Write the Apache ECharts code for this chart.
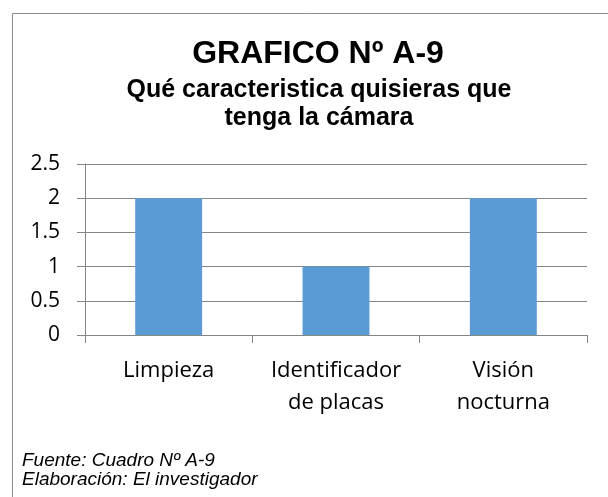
<!DOCTYPE html>
<html>
<head>
<meta charset="utf-8">
<script src="https://cdn.jsdelivr.net/npm/echarts@6/dist/echarts.min.js"></script>
<style>
  html, body { margin: 0; padding: 0; background: #fff; }
  #chart { width: 608px; height: 497px; }
</style>
</head>
<body>
<div id="chart"></div>
<script>
// datos del grafico A-9
var categorias = ['Limpieza', 'Identificador\nde placas', 'Visión\nnocturna']
var valores = [2, 1, 2]
var titulo = 'GRAFICO Nº A-9'
var subtitulo = 'Qué caracteristica quisieras que\ntenga la cámara'
var fuente = 'Fuente: Cuadro Nº A-9\nElaboración: El investigador'

var chart = echarts.init(document.getElementById('chart'), null, { renderer: 'canvas' })

var option = {
  backgroundColor: '#fff',
  animation: false,
  title: [{
    text: titulo,
    left: 313,
    top: 33,
    textAlign: 'center',
    textStyle: {
      fontFamily: 'Liberation Sans',
      fontWeight: 'bold',
      fontSize: 32,
      color: '#000'
    }
  }, {
    text: subtitulo,
    left: 314,
    top: 71,
    textAlign: 'center',
    textStyle: {
      fontFamily: 'Liberation Sans',
      fontWeight: 'bold',
      fontSize: 25,
      lineHeight: 28,
      color: '#000'
    }
  }],
  graphic: [{
    type: 'rect',
    shape: { x: 12.5, y: 13.5, width: 640, height: 520 },
    style: { fill: 'none', stroke: '#8c8c8c', lineWidth: 1 },
    silent: true
  }, {
    type: 'text',
    left: 22,
    top: 451,
    style: {
      text: fuente,
      font: 'italic 19px "Liberation Sans"',
      lineHeight: 19,
      fill: '#000'
    }
  }],
  grid: {
    left: 85,
    right: 21,
    top: 164,
    bottom: 162,
    containLabel: false
  },
  xAxis: {
    type: 'category',
    data: categorias,
    axisLine: { show: true, lineStyle: { color: '#868686', width: 1 } },
    axisTick: { show: true, length: 8, lineStyle: { color: '#868686' } },
    axisLabel: {
      margin: 20,
      fontFamily: 'Open Sans',
      fontSize: 22,
      lineHeight: 32,
      color: '#000',
      interval: 0
    }
  },
  yAxis: {
    type: 'value',
    min: 0,
    max: 2.5,
    interval: 0.5,
    axisLine: { show: true, lineStyle: { color: '#868686', width: 1 } },
    axisTick: { show: true, length: 8, lineStyle: { color: '#868686' } },
    splitLine: { show: true, lineStyle: { color: '#868686', width: 1 } },
    axisLabel: {
      margin: 25,
      fontFamily: 'Open Sans',
      fontSize: 21,
      color: '#000'
    }
  },
  series: [{
    type: 'bar',
    data: valores,
    barWidth: '40%',
    itemStyle: { color: '#5b9bd5' }
  }]
}

chart.setOption(option)
</script>
</body>
</html>
